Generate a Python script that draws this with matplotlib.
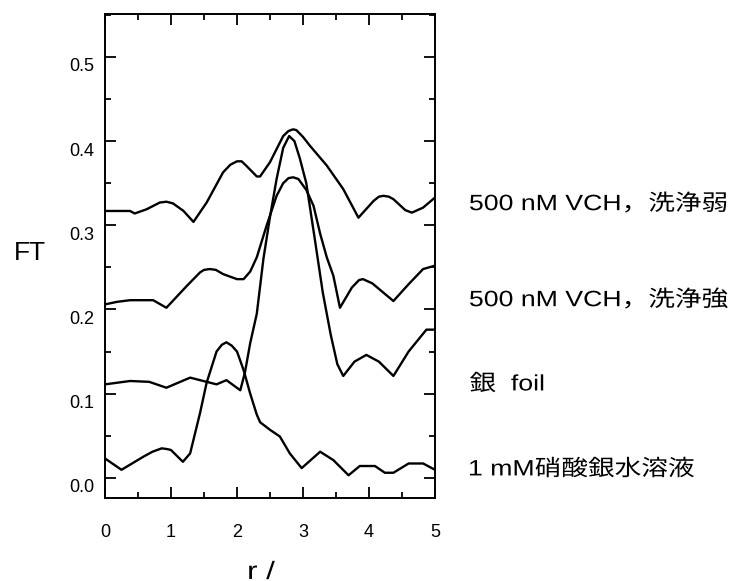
import matplotlib

matplotlib.use("Agg")
import matplotlib.pyplot as plt
from matplotlib.font_manager import FontProperties
from matplotlib.patches import PathPatch
from matplotlib.textpath import TextPath
from matplotlib.transforms import Affine2D, ScaledTranslation
from matplotlib.ticker import MultipleLocator

FONTS = ["Liberation Sans", "Noto Sans CJK JP", "DejaVu Sans"]
plt.rcParams["font.family"] = FONTS

# 500 nM VCH, 洗浄弱 (top curve)
r_weak = [0.0, 0.38, 0.45, 0.63, 0.83, 0.93, 1.03, 1.19, 1.34, 1.54, 1.79, 1.9,
          2.0, 2.07, 2.15, 2.30, 2.35, 2.50, 2.70, 2.78, 2.85, 2.90, 3.0, 3.11,
          3.36, 3.61, 3.84, 4.07, 4.15, 4.22, 4.3, 4.37, 4.55, 4.65, 4.82, 5.0]
ft_weak = [0.317, 0.317, 0.314, 0.319, 0.327, 0.328, 0.326, 0.317, 0.304, 0.327,
           0.363, 0.372, 0.376, 0.376, 0.370, 0.358, 0.358, 0.375, 0.406, 0.412,
           0.414, 0.413, 0.405, 0.394, 0.371, 0.343, 0.309, 0.329, 0.334, 0.335,
           0.334, 0.331, 0.318, 0.315, 0.321, 0.333]

# 500 nM VCH, 洗浄強
r_strong = [0.0, 0.18, 0.38, 0.73, 0.93, 1.24, 1.44, 1.5, 1.59, 1.68, 1.79, 2.0,
            2.1, 2.2, 2.3, 2.45, 2.6, 2.7, 2.78, 2.85, 2.93, 3.05, 3.16, 3.26,
            3.36, 3.46, 3.56, 3.74, 3.85, 3.91, 4.05, 4.37, 4.6, 4.82, 5.0]
ft_strong = [0.206, 0.209, 0.211, 0.211, 0.202, 0.228, 0.244, 0.247, 0.248, 0.247,
             0.242, 0.236, 0.236, 0.245, 0.262, 0.300, 0.335, 0.350, 0.356, 0.357,
             0.355, 0.342, 0.323, 0.290, 0.262, 0.240, 0.202, 0.226, 0.235, 0.236,
             0.231, 0.210, 0.230, 0.248, 0.252]

# 銀 foil
r_foil = [0.0, 0.38, 0.67, 0.93, 1.29, 1.49, 1.69, 1.84, 2.05, 2.12, 2.2, 2.3,
          2.4, 2.5, 2.6, 2.7, 2.79, 2.87, 2.95, 3.05, 3.18, 3.3, 3.42, 3.52,
          3.61, 3.78, 3.96, 4.15, 4.37, 4.6, 4.87, 5.0]
ft_foil = [0.111, 0.115, 0.114, 0.107, 0.119, 0.115, 0.111, 0.116, 0.104, 0.125,
           0.160, 0.195, 0.260, 0.310, 0.355, 0.392, 0.406, 0.400, 0.380, 0.350,
           0.283, 0.220, 0.170, 0.135, 0.121, 0.138, 0.146, 0.138, 0.121, 0.150,
           0.176, 0.176]

# 1 mM硝酸銀水溶液
r_soln = [0.0, 0.25, 0.58, 0.72, 0.86, 0.95, 1.0, 1.18, 1.29, 1.44, 1.54, 1.69,
          1.77, 1.84, 1.92, 2.0, 2.1, 2.2, 2.3, 2.35, 2.5, 2.65, 2.8, 2.98, 3.26,
          3.46, 3.69, 3.86, 4.09, 4.24, 4.37, 4.6, 4.82, 5.0]
ft_soln = [0.023, 0.0095, 0.025, 0.031, 0.035, 0.034, 0.033, 0.019, 0.029, 0.077,
           0.113, 0.150, 0.158, 0.161, 0.157, 0.150, 0.128, 0.100, 0.075, 0.066,
           0.057, 0.049, 0.029, 0.0115, 0.031, 0.021, 0.003, 0.014, 0.014, 0.006,
           0.006, 0.017, 0.017, 0.0095]

labels = ["500 nM VCH，洗浄弱", "500 nM VCH，洗浄強", "銀  foil", "1 mM硝酸銀水溶液"]
label_y = [202, 298, 382, 467]  # pixel rows of the labels

W, H = 735, 581


def stretched_text(fig, x_px, y_px, s, size, sx, ha="left"):
    """Draw text as a path, stretched horizontally (the original looks wide)."""
    path = TextPath((0, 0), s, size=size, prop=FontProperties(family=FONTS))
    ext = path.get_extents()
    x0 = ext.x0 if ha == "left" else (ext.x0 + ext.x1) / 2
    yc = (ext.y0 + ext.y1) / 2
    tr = (Affine2D().translate(-x0, -yc).scale(sx / 72, 1 / 72)
          .translate(x_px / 100, (H - y_px) / 100) + fig.dpi_scale_trans)
    fig.add_artist(PathPatch(path, transform=tr, color="black", lw=0))


fig = plt.figure(figsize=(7.35, 5.81), dpi=100)
ax = fig.add_axes([105 / W, 1 - 498 / H, 330 / W, 484 / H])

for r, ft in [(r_weak, ft_weak), (r_strong, ft_strong), (r_foil, ft_foil), (r_soln, ft_soln)]:
    ax.plot(r, ft, color="black", lw=1.7)

ax.set_xlim(0, 5)
ax.set_ylim(-0.024, 0.551)
ax.xaxis.set_minor_locator(MultipleLocator(0.5))
ax.yaxis.set_minor_locator(MultipleLocator(0.05))
ax.set_yticks([0.0, 0.1, 0.2, 0.3, 0.4, 0.5])
ax.set_yticklabels(["0.0", "0.1", "0.2", "0.3", "0.4", "0.5"])
ax.set_xticks([0, 1, 2, 3, 4, 5])
ax.set_xticklabels(["0", "1", "2", "3", "4", "5"])
ax.tick_params(which="both", direction="in", top=True, right=True, width=1.3)
ax.tick_params(which="major", length=8)
ax.tick_params(which="minor", length=4)
ax.tick_params(axis="x", pad=19, labelsize=13)
ax.tick_params(axis="y", pad=8, labelsize=13)
for sp in ax.spines.values():
    sp.set_linewidth(1.4)

# y tick labels sit slightly below their ticks in the original
for t in ax.yaxis.get_major_ticks():
    t.label1.set_transform(t.label1.get_transform()
                           + ScaledTranslation(0, -0.08, fig.dpi_scale_trans))

fig.text(30 / W, 1 - 253 / H, "FT", fontsize=19, ha="center", va="center")
stretched_text(fig, 262, 570, "r /", 18, 1.25, ha="center")

for lab, py in zip(labels, label_y):
    stretched_text(fig, 470, py, lab, 16, 1.2)

fig.savefig("out.png", dpi=100)
